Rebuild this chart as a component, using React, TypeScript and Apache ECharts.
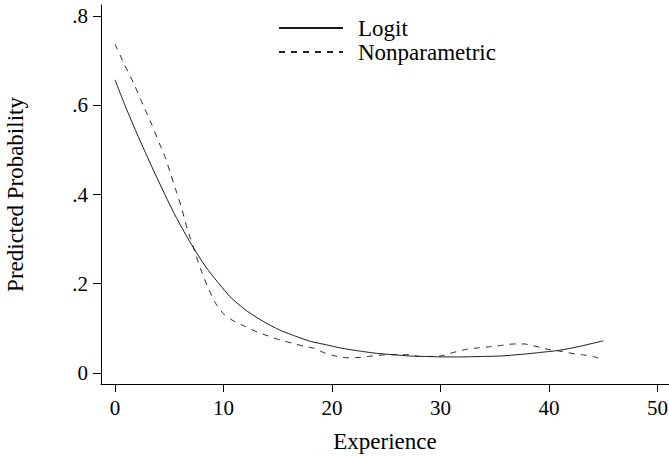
import React, { useEffect, useRef } from "react";
import * as echarts from "echarts";

const seriesNames = ["Logit", "Nonparametric"];

const logitData: [number, number][] = [
  [0, 0.657], [0.9, 0.601], [1.8, 0.549], [2.8, 0.494], [3.8, 0.441], [5.4, 0.36],
  [6.9, 0.294], [8.45, 0.235], [10.6, 0.171], [12.1, 0.14], [13.7, 0.115],
  [15.2, 0.096], [16.8, 0.081], [18, 0.071], [19.5, 0.063], [21, 0.055],
  [22.6, 0.049], [24.1, 0.044], [25.6, 0.041], [27.2, 0.038], [28.7, 0.037],
  [30.3, 0.036], [31.8, 0.036], [33.9, 0.037], [35.5, 0.038], [37.6, 0.042],
  [39.2, 0.046], [40.7, 0.05], [41.9, 0.055], [42.9, 0.06], [45, 0.072],
];

const nonparamData: [number, number][] = [
  [0, 0.737], [0.9, 0.69], [1.8, 0.645], [2.6, 0.6], [3.4, 0.556], [4.15, 0.511],
  [4.6, 0.485], [5.16, 0.444], [5.7, 0.403], [6.15, 0.369], [6.6, 0.328],
  [6.9, 0.305], [7.5, 0.261], [7.9, 0.232], [8.6, 0.19], [9.3, 0.155],
  [10.1, 0.13], [10.9, 0.117], [12, 0.104], [13, 0.093], [14.1, 0.083],
  [15.2, 0.074], [16.3, 0.067], [17.4, 0.06], [18.4, 0.055], [19.2, 0.046],
  [20.3, 0.038], [21.4, 0.034], [22.6, 0.035], [23.7, 0.038], [25, 0.041],
  [27, 0.041], [28.1, 0.037], [30, 0.038], [31.2, 0.046], [32.4, 0.053],
  [33.4, 0.056], [34.6, 0.059], [35.7, 0.062], [36.7, 0.065], [37.7, 0.065],
  [38.9, 0.059], [39.9, 0.053], [41, 0.049], [42.1, 0.044], [43, 0.041],
  [44.1, 0.037], [45, 0.029],
];

const xTicks = [0, 10, 20, 30, 40, 50];
const yTicks = [0, 0.2, 0.4, 0.6, 0.8];

const FONT = "'Liberation Serif', 'DejaVu Serif', serif";

export default function App() {
  const ref = useRef<HTMLDivElement>(null);
  useEffect(() => {
    if (!ref.current) return;
    const chart = echarts.init(ref.current, undefined, { renderer: "svg" });
    chart.setOption({
      animation: false,
      backgroundColor: "#fff",
      textStyle: { fontFamily: FONT, color: "#000" },
      grid: { left: 101, right: 0, top: 5, bottom: 74, containLabel: false, outerBoundsMode: "none" },
      legend: {
        orient: "vertical",
        left: 278,
        top: 16,
        padding: 0,
        itemWidth: 64,
        itemHeight: 14,
        itemGap: 0,
        itemStyle: { opacity: 0 },
        textStyle: { fontFamily: FONT, fontSize: 23, color: "#000", lineHeight: 24, padding: [0, 0, 0, 10] },
        data: seriesNames,
      },
      xAxis: {
        type: "value",
        min: -1.29,
        max: 51.06,
        name: "Experience",
        nameLocation: "middle",
        nameGap: 46,
        nameTextStyle: { fontFamily: FONT, fontSize: 23, color: "#000" },
        axisLine: { onZero: false, lineStyle: { color: "#000", width: 1 } },
        axisTick: { show: true, length: 8, customValues: xTicks, lineStyle: { color: "#000" } },
        axisLabel: { customValues: xTicks, fontFamily: FONT, fontSize: 21, color: "#000", margin: 13 },
        splitLine: { show: false },
      },
      yAxis: {
        type: "value",
        min: -0.0247,
        max: 0.8247,
        name: "Predicted Probability",
        nameLocation: "middle",
        nameGap: 74,
        nameTextStyle: { fontFamily: FONT, fontSize: 23, color: "#000" },
        axisLine: { show: true, onZero: false, lineStyle: { color: "#000", width: 1 } },
        axisTick: { show: true, length: 8, customValues: yTicks, lineStyle: { color: "#000" } },
        axisLabel: {
          customValues: yTicks,
          fontFamily: FONT,
          fontSize: 21,
          color: "#000",
          margin: 13,
          formatter: (v: number) => (Math.abs(v) < 1e-9 ? "0" : "." + Math.round(v * 10)),
        },
        splitLine: { show: false },
      },
      series: [
        {
          name: seriesNames[0],
          type: "line",
          data: logitData,
          symbol: "none",
          smooth: 0.2,
          lineStyle: { color: "#1a1a1a", width: 1, type: "solid" },
          itemStyle: { color: "#1a1a1a" },
        },
        {
          name: seriesNames[1],
          type: "line",
          data: nonparamData,
          symbol: "none",
          smooth: 0.2,
          lineStyle: { color: "#222", width: 1, type: [6, 6] },
          itemStyle: { color: "#222" },
        },
      ],
    });
    return () => chart.dispose();
  }, []);
  return <div ref={ref} style={{ width: 669, height: 458, position: "absolute", left: 0, top: 0 }} />;
}
